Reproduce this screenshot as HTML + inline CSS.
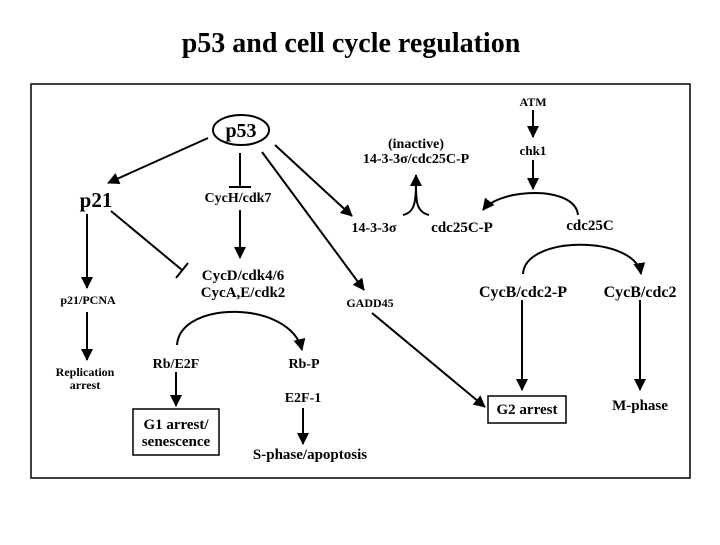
<!DOCTYPE html>
<html><head><meta charset="utf-8"><style>
body{margin:0;background:#fff;width:720px;height:540px;overflow:hidden}
text{font-family:"Liberation Serif",serif;font-weight:bold;fill:#000;text-anchor:middle}
</style></head><body>
<svg width="720" height="540" viewBox="0 0 720 540" xmlns="http://www.w3.org/2000/svg">
<defs><marker id="a" markerWidth="12" markerHeight="12" refX="11" refY="6" orient="auto" markerUnits="userSpaceOnUse"><path d="M0,0L12,6L0,12z" fill="#000"/></marker></defs>
<text x="351" y="52" style="font-size:28px">p53 and cell cycle regulation</text>
<rect x="31" y="84" width="659" height="394" fill="none" stroke="#000" stroke-width="1.5"/>
<g stroke="#000" stroke-width="2" fill="none">
<ellipse cx="241" cy="130" rx="28" ry="15"/>
<line x1="208" y1="138" x2="108" y2="183" marker-end="url(#a)"/>
<line x1="240" y1="153" x2="240" y2="187"/><line x1="229" y1="187" x2="251" y2="187"/>
<line x1="240" y1="210" x2="240" y2="258" marker-end="url(#a)"/>
<line x1="111" y1="211" x2="182" y2="270"/><line x1="176" y1="278" x2="188" y2="263"/>
<line x1="87" y1="214" x2="87" y2="288" marker-end="url(#a)"/>
<line x1="87" y1="312" x2="87" y2="360" marker-end="url(#a)"/>
<path d="M177,345 C180,300 290,300 302,350" marker-end="url(#a)"/>
<line x1="176" y1="372" x2="176" y2="406" marker-end="url(#a)"/>
<rect x="133" y="409" width="86" height="46" stroke-width="1.5"/>
<line x1="303" y1="408" x2="303" y2="444" marker-end="url(#a)"/>
<line x1="275" y1="145" x2="352" y2="216" marker-end="url(#a)"/>
<line x1="262" y1="152" x2="364" y2="290" marker-end="url(#a)"/>
<line x1="372" y1="313" x2="485" y2="407" marker-end="url(#a)"/>
<rect x="488" y="396" width="78" height="27" stroke-width="1.5"/>
<path d="M403,215 C416,212 416,200 416,175" marker-end="url(#a)"/>
<path d="M429,215 C416,212 416,200 416,185"/>
<line x1="533" y1="110" x2="533" y2="137" marker-end="url(#a)"/>
<line x1="533" y1="160" x2="533" y2="189" marker-end="url(#a)"/>
<path d="M578,215 C575,185 500,188 483,210" marker-end="url(#a)"/>
<path d="M523,274 C525,235 635,235 641,274" marker-end="url(#a)"/>
<line x1="522" y1="300" x2="522" y2="390" marker-end="url(#a)"/>
<line x1="640" y1="300" x2="640" y2="390" marker-end="url(#a)"/>
</g>
<text x="241" y="137" style="font-size:20px">p53</text>
<text x="96" y="207" style="font-size:21px">p21</text>
<text x="238" y="202" style="font-size:14px">CycH/cdk7</text>
<text x="243" y="280" style="font-size:15px">CycD/cdk4/6</text>
<text x="243" y="297" style="font-size:15px">CycA,E/cdk2</text>
<text x="88" y="304" style="font-size:12px">p21/PCNA</text>
<text x="85" y="376" style="font-size:12px">Replication</text>
<text x="85" y="389" style="font-size:12px">arrest</text>
<text x="176" y="368" style="font-size:14px">Rb/E2F</text>
<text x="304" y="368" style="font-size:14px">Rb-P</text>
<text x="176" y="429" style="font-size:15px">G1 arrest/</text>
<text x="176" y="446" style="font-size:15px">senescence</text>
<text x="303" y="402" style="font-size:14px">E2F-1</text>
<text x="310" y="459" style="font-size:15px">S-phase/apoptosis</text>
<text x="374" y="232" style="font-size:14px">14-3-3σ</text>
<text x="462" y="232" style="font-size:15px">cdc25C-P</text>
<text x="590" y="230" style="font-size:15px">cdc25C</text>
<text x="416" y="148" style="font-size:14px">(inactive)</text>
<text x="416" y="163" style="font-size:14px">14-3-3σ/cdc25C-P</text>
<text x="533" y="106" style="font-size:12px">ATM</text>
<text x="533" y="155" style="font-size:13px">chk1</text>
<text x="370" y="307" style="font-size:12px">GADD45</text>
<text x="523" y="297" style="font-size:16px">CycB/cdc2-P</text>
<text x="640" y="297" style="font-size:16px">CycB/cdc2</text>
<text x="527" y="414" style="font-size:15px">G2 arrest</text>
<text x="640" y="410" style="font-size:15px">M-phase</text>
</svg>
</body></html>
